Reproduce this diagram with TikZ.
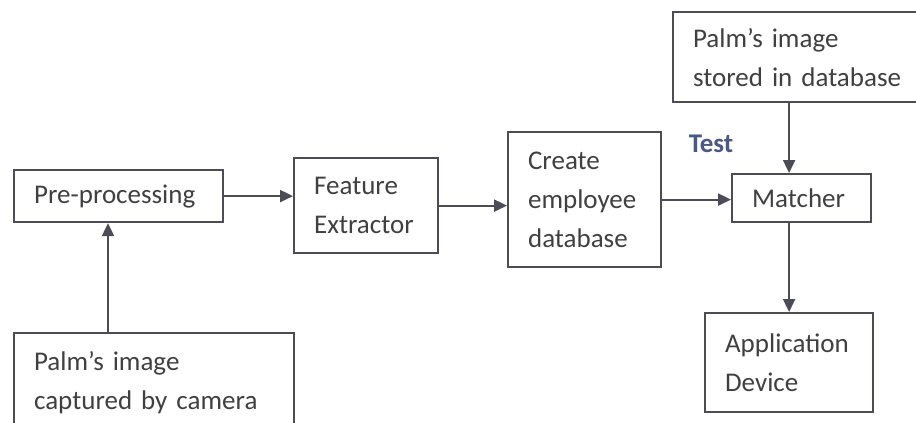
\documentclass[tikz,border=0pt]{standalone}
\usepackage{fontspec}
\setmainfont{Carlito}
\usetikzlibrary{arrows.meta}
\definecolor{linec}{HTML}{4C4C56}
\definecolor{textc}{HTML}{404040}
\definecolor{testc}{HTML}{4A5884}
\begin{document}
\begin{tikzpicture}[x=1pt,y=-1pt,
  box/.style={draw=linec,line width=2.2pt,inner xsep=20pt,inner ysep=0pt,align=left,anchor=north west,
    text=textc,font=\fontsize{27}{39}\selectfont},
  conn/.style={draw=linec,line width=2.2pt,-{Triangle[length=13pt,width=12pt]}}]
\useasboundingbox (0,0) rectangle (916,423);
\clip (0,0) rectangle (916,423);
\fill[white] (0,0) rectangle (916,423);
\node[box,text width=169pt,minimum height=52pt] (pre) at (13,169) {Pre-processing};
\node[box,text width=104pt,minimum height=95pt] (feat) at (293,157) {Feature\\Extractor};
\node[box,text width=113pt,minimum height=135pt] (create) at (507,131) {Create\\employee\\database};
\node[box,text width=99pt,minimum height=48pt] (matcher) at (731,173) {Matcher};
\node[box,text width=220pt,minimum height=90pt] (stored) at (672,11) {Palm’s image\\stored in database};
\node[box,text width=128pt,minimum height=99pt] (app) at (704,312) {Application\\Device};
\node[box,text width=240pt,minimum height=100pt] (cam) at (13,332) {Palm’s image\\captured by camera};
\node[text=testc,font=\fontsize{27}{32}\bfseries] (test) at (711,144) {Test};
\coordinate (cx) at (108,0);
\draw[conn] (pre.east) -- (pre.east -| feat.west);
\draw[conn] (feat.east) -- (feat.east -| create.west);
\draw[conn] (create.east) -- (create.east -| matcher.west);
\draw[conn] (stored.south -| app.north) -- (matcher.north -| app.north);
\draw[conn] (matcher.south -| app.north) -- (app.north);
\draw[conn] (cam.north -| cx) -- (pre.south -| cx);
\end{tikzpicture}
\end{document}
